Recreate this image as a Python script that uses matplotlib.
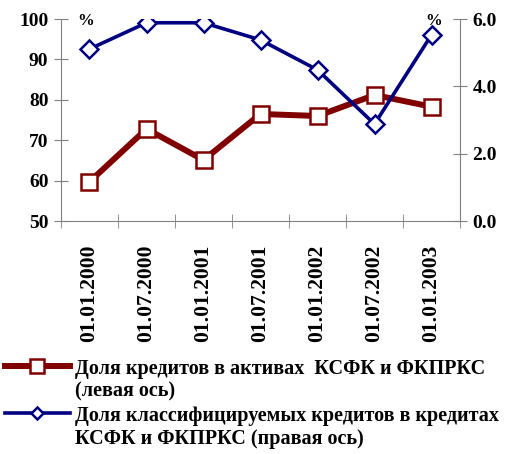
import matplotlib.pyplot as plt
from matplotlib.ticker import FormatStrFormatter

plt.rcParams['font.family'] = ['Liberation Serif', 'DejaVu Serif']
plt.rcParams['font.weight'] = 'bold'

dates = ['01.01.2000', '01.07.2000', '01.01.2001', '01.07.2001',
         '01.01.2002', '01.07.2002', '01.01.2003']
loans_share = [59.7, 72.8, 65.1, 76.5, 76.0, 81.2, 78.3]      # left axis
classified_share = [5.11, 5.89, 5.89, 5.38, 4.49, 2.88, 5.53]  # right axis

label_left = 'Доля кредитов в активах  КСФК и ФКПРКС\n(левая ось)'
label_right = 'Доля классифицируемых кредитов в кредитах\nКСФК и ФКПРКС (правая ось)'

red = '#800000'
blue = '#000080'
grey = '#808080'

fig = plt.figure(figsize=(5.1, 4.54), dpi=100)
ax = fig.add_axes([0.1196, 0.5132, 0.7824, 0.4448])
ax2 = ax.twinx()

x = list(range(len(dates)))
l1, = ax.plot(x, loans_share, color=red, lw=4.3, marker='s', ms=11,
              mfc='white', mec=red, mew=1.8, zorder=3)
l2, = ax2.plot(x, classified_share, color=blue, lw=2.6, marker='D', ms=9,
               mfc='white', mec=blue, mew=1.8, zorder=3)

ax.set_xlim(-0.5, len(dates) - 0.5)
ax.set_ylim(50, 100)
ax.set_yticks(range(50, 101, 10))
ax2.set_ylim(0, 6)
ax2.set_yticks([0, 2, 4, 6])
ax2.yaxis.set_major_formatter(FormatStrFormatter('%.1f'))

# labels at category centers, tick marks on category boundaries
ax.set_xticks(x)
ax.set_xticklabels(dates, rotation=90, fontsize=15.5)
ax.set_xticks([i - 0.5 for i in range(len(dates) + 1)], minor=True)
ax.tick_params(axis='x', which='major', length=0, pad=17)
ax.tick_params(axis='x', which='minor', direction='inout', length=10, color=grey)
ax.tick_params(axis='y', direction='inout', length=10, color=grey, labelsize=14, pad=4)
ax2.tick_params(axis='y', direction='inout', length=10, color=grey, labelsize=14, pad=4)

for a in (ax, ax2):
    a.spines['top'].set_visible(False)
    for s in ('left', 'right', 'bottom'):
        a.spines[s].set_color(grey)
ax.spines['right'].set_visible(False)
ax2.spines['left'].set_visible(False)
ax2.spines['bottom'].set_visible(False)

ax.text(0.04, 1.03, '%', transform=ax.transAxes, fontsize=12, va='top', ha='left')
ax2.text(0.955, 1.03, '%', transform=ax2.transAxes, fontsize=12, va='top', ha='right')

leg = fig.legend([l1, l2], [label_left, label_right], loc='upper left',
                 bbox_to_anchor=(0.01, 0.21), frameon=False, fontsize=14.5,
                 handlelength=3.2, handletextpad=0.25, labelspacing=0.2,
                 borderpad=0, borderaxespad=0)
leg.legend_handles[0].set_markersize(10)
leg.legend_handles[1].set_markersize(6)
for t in leg.get_texts():
    t.set_linespacing(1.2)
for col in leg._legend_handle_box.get_children():
    for item in col.get_children():
        item.align = 'top'

plt.savefig('out.png', dpi=100)
